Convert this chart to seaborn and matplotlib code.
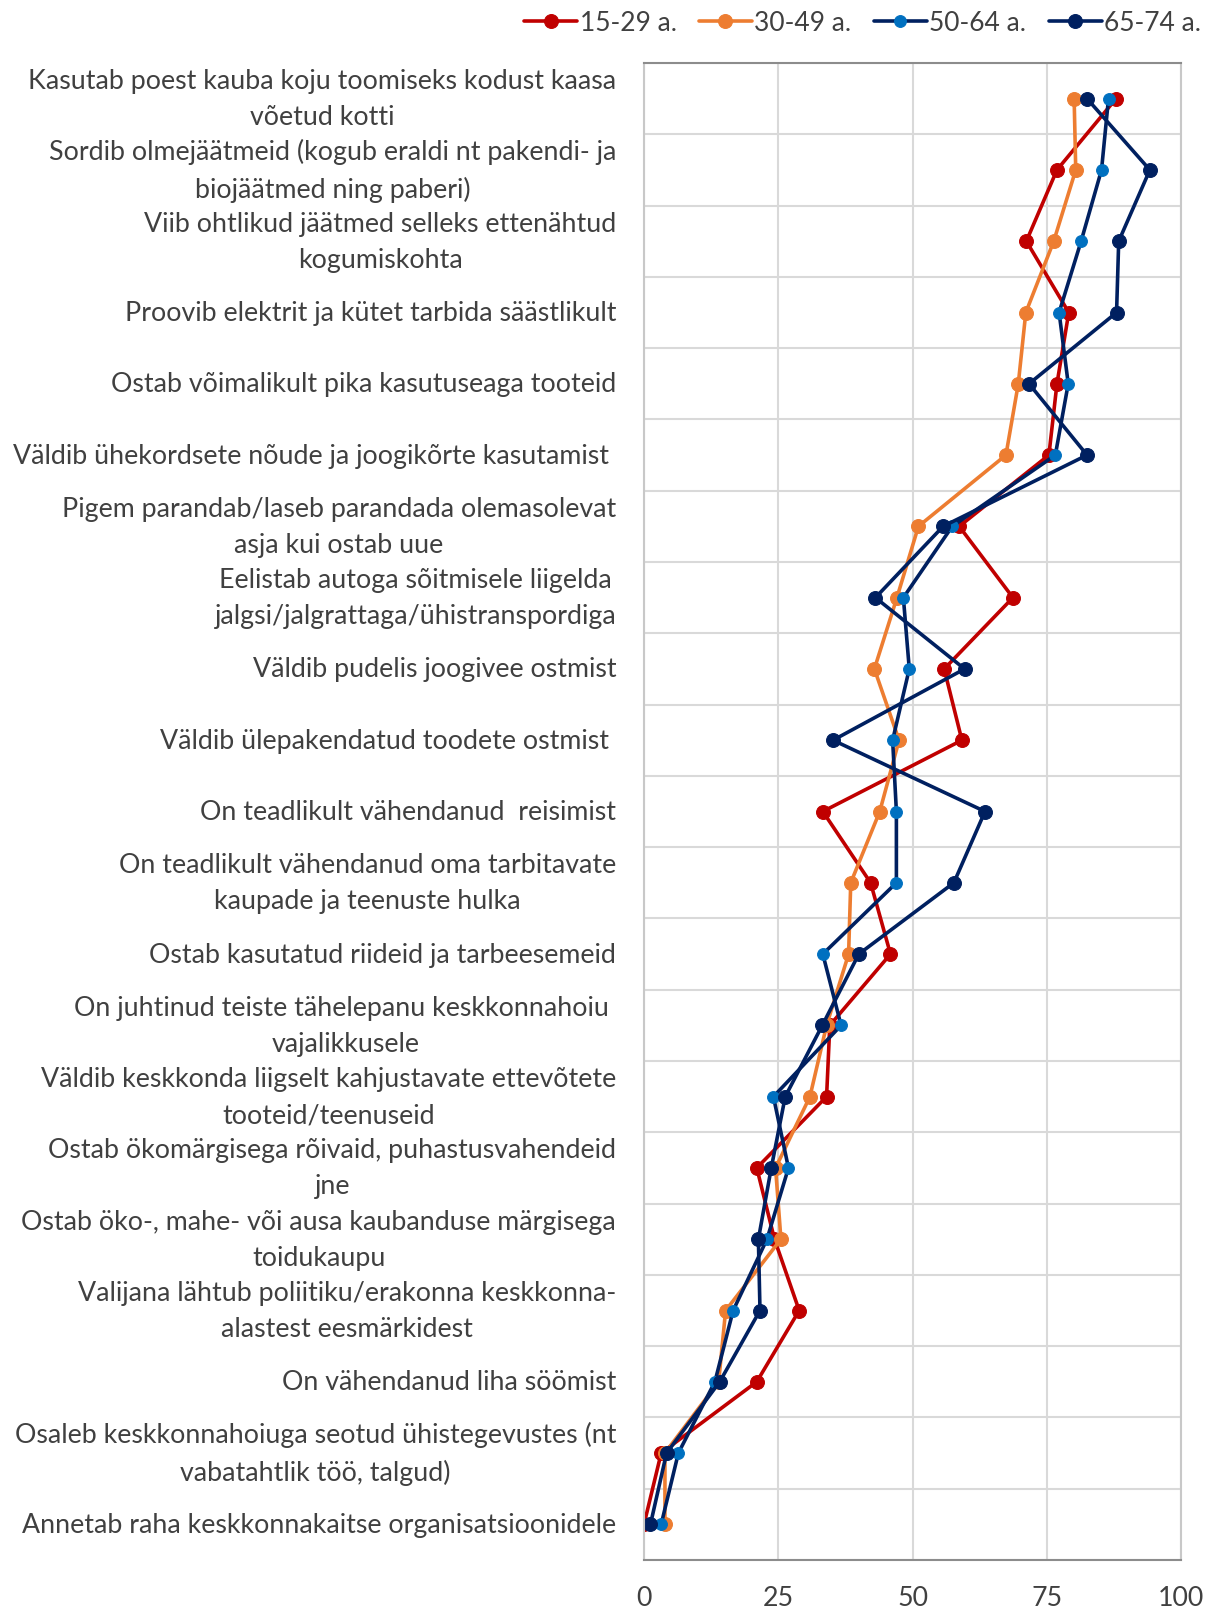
import pandas as pd
import numpy as np
import matplotlib
matplotlib.use('Agg')
import matplotlib.pyplot as plt
import seaborn as sns

sns.set_theme(style='white')
plt.rcParams['font.family'] = ['Lato', 'DejaVu Sans']

# tegevused (ülevalt alla)
categories = [
    'Kasutab poest kauba koju toomiseks kodust kaasa\nvõetud kotti',
    'Sordib olmejäätmeid (kogub eraldi nt pakendi- ja\nbiojäätmed ning paberi)',
    'Viib ohtlikud jäätmed selleks ettenähtud\nkogumiskohta',
    'Proovib elektrit ja kütet tarbida säästlikult',
    'Ostab võimalikult pika kasutuseaga tooteid',
    'Väldib ühekordsete nõude ja joogikõrte kasutamist ',
    'Pigem parandab/laseb parandada olemasolevat\nasja kui ostab uue',
    'Eelistab autoga sõitmisele liigelda\njalgsi/jalgrattaga/ühistranspordiga',
    'Väldib pudelis joogivee ostmist',
    'Väldib ülepakendatud toodete ostmist ',
    'On teadlikult vähendanud  reisimist',
    'On teadlikult vähendanud oma tarbitavate\nkaupade ja teenuste hulka',
    'Ostab kasutatud riideid ja tarbeesemeid',
    'On juhtinud teiste tähelepanu keskkonnahoiu \nvajalikkusele',
    'Väldib keskkonda liigselt kahjustavate ettevõtete\ntooteid/teenuseid',
    'Ostab ökomärgisega rõivaid, puhastusvahendeid\njne',
    'Ostab öko-, mahe- või ausa kaubanduse märgisega\ntoidukaupu',
    'Valijana lähtub poliitiku/erakonna keskkonna-\nalastest eesmärkidest',
    'On vähendanud liha söömist',
    'Osaleb keskkonnahoiuga seotud ühistegevustes (nt\nvabatahtlik töö, talgud)',
    'Annetab raha keskkonnakaitse organisatsioonidele',
]

series_names = ['15-29 a.', '30-49 a.', '50-64 a.', '65-74 a.']

v_15_29 = [87.9, 76.9, 71.2, 79.1, 76.9, 75.4, 58.7, 68.7, 55.9, 59.2, 33.3,
           42.2, 45.9, 34.6, 34.0, 21.0, 24.3, 28.9, 21.0, 3.2, 0.0]
v_30_49 = [80.1, 80.4, 76.3, 71.1, 69.7, 67.4, 51.1, 47.1, 42.9, 47.5, 43.9,
           38.5, 38.1, 34.0, 30.9, 24.5, 25.5, 15.2, 13.9, 3.9, 3.9]
v_50_64 = [86.5, 85.2, 81.4, 77.3, 79.0, 76.6, 57.4, 48.3, 49.4, 46.3, 47.0,
           47.0, 33.3, 36.7, 24.1, 26.9, 22.9, 16.6, 13.2, 6.4, 3.2]
v_65_74 = [82.5, 94.2, 88.4, 88.0, 71.7, 82.5, 55.7, 43.1, 59.7, 35.2, 63.5,
           57.7, 40.0, 33.2, 26.3, 23.7, 21.3, 21.6, 14.1, 4.2, 1.2]

line_colors = ['#C00000', '#ED7D31', '#002060', '#002060']
marker_colors = ['#C00000', '#ED7D31', '#0070C0', '#002060']
marker_sizes = [10, 10, 8.5, 10]

rows = []
for name, vals in zip(series_names, [v_15_29, v_30_49, v_50_64, v_65_74]):
    for i, v in enumerate(vals):
        rows.append({'grupp': name, 'pos': i, 'vaartus': v})
df = pd.DataFrame(rows)

fig = plt.figure(figsize=(12.25, 16.08), dpi=100)
ax = fig.add_axes([644 / 1225, 1 - 1561 / 1608, (1181 - 644) / 1225, (1561 - 64) / 1608])

for k, name in enumerate(series_names):
    sub = df[df['grupp'] == name]
    sns.lineplot(data=sub, x='vaartus', y='pos', sort=False, orient='y', ax=ax,
                 color=line_colors[k], linewidth=2.6, marker='o',
                 markersize=marker_sizes[k], markerfacecolor=marker_colors[k],
                 markeredgecolor=marker_colors[k], label=name)

ax.set_xlim(0, 100)
ax.set_ylim(len(categories) - 0.5, -0.5)
ax.set_xticks([0, 25, 50, 75, 100])
ax.set_yticks(np.arange(len(categories)))
ax.set_yticklabels(categories, multialignment='center', linespacing=1.55, va='center')
ax.set_yticks(np.arange(len(categories) + 1) - 0.5, minor=True)
ax.set_xlabel('')
ax.set_ylabel('')

ax.tick_params(axis='y', which='major', length=0, pad=20, labelsize=19.3, labelcolor='#404040')
ax.tick_params(axis='y', which='minor', length=0)
ax.tick_params(axis='x', length=0, pad=18, labelsize=19.3, labelcolor='#404040')
ax.grid(False)
ax.grid(True, axis='y', which='minor', color='#D9D9D9', linewidth=1.5)
ax.grid(True, axis='x', which='major', color='#D9D9D9', linewidth=1.5)
ax.set_axisbelow(True)

for s in ['top', 'bottom']:
    ax.spines[s].set_color('#8C8C8C')
    ax.spines[s].set_linewidth(1.5)
for s in ['left', 'right']:
    ax.spines[s].set_color('#C8C8C8')
    ax.spines[s].set_linewidth(1.5)

ax.get_legend().remove()
handles, labels = ax.get_legend_handles_labels()
fig.legend(handles, labels, loc='upper right', bbox_to_anchor=(1.0, 1.008),
           ncol=4, frameon=False, fontsize=19, labelcolor='#404040',
           handlelength=2.0, handletextpad=0.1, columnspacing=0.85)

fig.savefig('out.png', dpi=100)
